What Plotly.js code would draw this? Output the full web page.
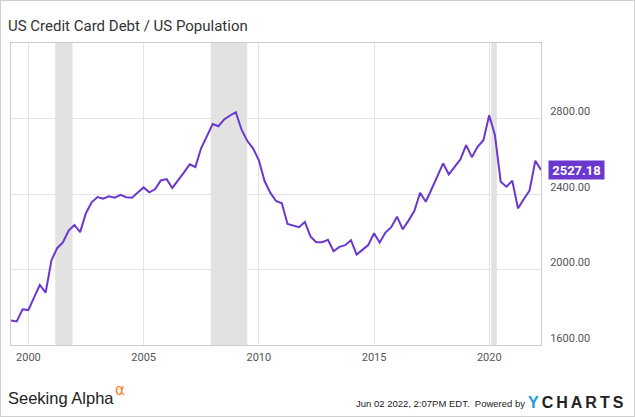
<!DOCTYPE html>
<html>
<head>
<meta charset="utf-8">
<script src="https://cdn.plot.ly/plotly-3.0.1.min.js"></script>
<style>
html,body{margin:0;padding:0;background:#fff;}
#chart{width:635px;height:417px;position:absolute;left:0;top:0;}
#frame{position:absolute;left:0;top:0;width:635px;height:417px;box-sizing:border-box;border:1px solid #cfcfcf;pointer-events:none;}
</style>
</head>
<body>
<div id="chart"></div>
<div id="frame"></div>
<script>
// Quarter-end dates
var dates = [
"1999-03-31","1999-06-30","1999-09-30","1999-12-31",
"2000-03-31","2000-06-30","2000-09-30","2000-12-31",
"2001-03-31","2001-06-30","2001-09-30","2001-12-31",
"2002-03-31","2002-06-30","2002-09-30","2002-12-31",
"2003-03-31","2003-06-30","2003-09-30","2003-12-31",
"2004-03-31","2004-06-30","2004-09-30","2004-12-31",
"2005-03-31","2005-06-30","2005-09-30","2005-12-31",
"2006-03-31","2006-06-30","2006-09-30","2006-12-31",
"2007-03-31","2007-06-30","2007-09-30","2007-12-31",
"2008-03-31","2008-06-30","2008-09-30","2008-12-31",
"2009-03-31","2009-06-30","2009-09-30","2009-12-31",
"2010-03-31","2010-06-30","2010-09-30","2010-12-31",
"2011-03-31","2011-06-30","2011-09-30","2011-12-31",
"2012-03-31","2012-06-30","2012-09-30","2012-12-31",
"2013-03-31","2013-06-30","2013-09-30","2013-12-31",
"2014-03-31","2014-06-30","2014-09-30","2014-12-31",
"2015-03-31","2015-06-30","2015-09-30","2015-12-31",
"2016-03-31","2016-06-30","2016-09-30","2016-12-31",
"2017-03-31","2017-06-30","2017-09-30","2017-12-31",
"2018-03-31","2018-06-30","2018-09-30","2018-12-31",
"2019-03-31","2019-06-30","2019-09-30","2019-12-31",
"2020-03-31","2020-06-30","2020-09-30","2020-12-31",
"2021-03-31","2021-06-30","2021-09-30","2021-12-31",
"2022-03-31"
];
// Credit card debt per capita (USD)
var debtPerCapita = [
1730,1725,1789,1785,
1852,1918,1878,2048,
2113,2143,2206,2236,
2198,2298,2356,2384,
2375,2388,2380,2395,
2383,2380,2408,2435,
2409,2425,2472,2479,
2432,2470,2513,2557,
2543,2642,2707,2771,
2759,2795,2816,2833,
2742,2682,2642,2580,
2470,2407,2363,2351,
2241,2231,2224,2252,
2174,2145,2145,2157,
2097,2120,2129,2155,
2079,2104,2129,2192,
2143,2196,2224,2280,
2213,2259,2310,2407,
2359,2425,2491,2562,
2504,2544,2583,2659,
2595,2650,2685,2817,
2712,2465,2439,2470,
2324,2372,2418,2576,
2527.18
];
// Recession periods
var recessionStarts = ["2001-03-01","2007-12-01","2020-02-01"];
var recessionEnds   = ["2001-11-30","2009-06-30","2020-04-30"];
var yTicks = [1600,2000,2400,2800];
var yTickText = ["1600.00","2000.00","2400.00","2800.00"];

var purple = "#6a38cf";
var lastDate = dates[dates.length-1];
var lastVal = debtPerCapita[debtPerCapita.length-1];

var shapes = [];
for (var i=0;i<recessionStarts.length;i++){
  shapes.push({type:"rect",xref:"x",yref:"paper",x0:recessionStarts[i],x1:recessionEnds[i],y0:0,y1:1,
    fillcolor:"#e2e2e2",line:{width:0},layer:"between"});
}
shapes.push({type:"path",xref:"x",yref:"y",xsizemode:"pixel",ysizemode:"pixel",
  xanchor:lastDate,yanchor:lastVal,path:"M 1 0 L 8 9 L 8 -9 Z",fillcolor:purple,line:{width:0},layer:"above"});

function px2x(p){return (p-10.7)/530;}
function px2y(p){return (345.4-p)/302.7;}

var annotations = [
  {x:lastDate,y:lastVal,xref:"x",yref:"y",xanchor:"left",yanchor:"middle",xshift:7,showarrow:false,
   text:"<b>"+lastVal.toFixed(2)+"</b>",bgcolor:purple,borderpad:2,width:51,height:14,align:"center",
   font:{family:"Roboto",size:13,color:"#ffffff"}},
  {xref:"paper",yref:"paper",x:px2x(6),y:px2y(399),xanchor:"left",yanchor:"middle",showarrow:false,
   text:"Seeking Alpha",font:{family:"Arial",size:16.5,color:"#222222"}},
  {xref:"paper",yref:"paper",x:px2x(113),y:px2y(391),xanchor:"left",yanchor:"middle",showarrow:false,
   text:"α",font:{family:"DejaVu Sans, Arial",size:15,color:"#f7811e"}},
  {xref:"paper",yref:"paper",x:px2x(527),y:px2y(404),xanchor:"right",yanchor:"middle",showarrow:false,
   text:"Jun 02 2022, 2:07PM EDT.  Powered by",font:{family:"Arial",size:9.5,color:"#222222"}},
  {xref:"paper",yref:"paper",x:px2x(526),y:px2y(403),xanchor:"left",yanchor:"middle",showarrow:false,
   text:"<b><span style=\"color:#1c9ad6;letter-spacing:3px\">Y</span><span style=\"letter-spacing:3px\">CHARTS</span></b>",
   font:{family:"Arial",size:16,color:"#222222"}}
];

var trace = {x:dates,y:debtPerCapita,type:"scatter",mode:"lines",
  line:{color:purple,width:2},hoverinfo:"x+y"};

var layout = {
  width:635,height:417,
  margin:{l:11,r:94,t:43,b:72,pad:0},
  paper_bgcolor:"#ffffff",plot_bgcolor:"#ffffff",
  showlegend:false,
  title:{text:"US Credit Card Debt / US Population",x:8/635,xanchor:"left",xref:"container",
    y:1-26/417,yanchor:"middle",yref:"container",font:{family:"Roboto",size:15,color:"#333333"}},
  xaxis:{type:"date",range:[dates[0],lastDate],tick0:"2000-01-01",dtick:"M60",tickformat:"%Y",
    showgrid:true,gridcolor:"#e3e3e3",gridwidth:1,zeroline:false,
    showline:true,linecolor:"#cccccc",linewidth:1,mirror:true,ticks:"",ticklabelstandoff:2,
    tickfont:{family:"Roboto",size:11,color:"#555555"}},
  yaxis:{range:[1600,3200],side:"right",tickvals:yTicks,ticktext:yTickText,
    showgrid:true,gridcolor:"#e3e3e3",gridwidth:1,zeroline:false,
    showline:true,linecolor:"#cccccc",linewidth:1,mirror:true,ticks:"",ticklabelstandoff:6,ticklabelshift:-7,
    tickfont:{family:"Roboto",size:11,color:"#555555"}},
  shapes:shapes,
  annotations:annotations
};

Plotly.newPlot("chart",[trace],layout,{displayModeBar:false,staticPlot:true});
</script>
</body>
</html>
